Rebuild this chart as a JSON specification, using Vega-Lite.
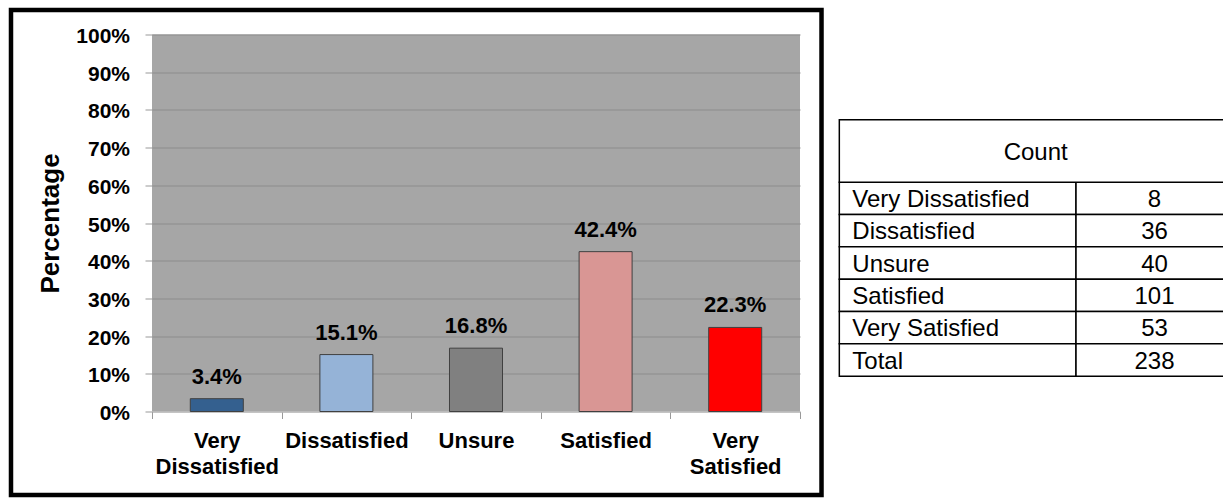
{
  "$schema": "https://vega.github.io/schema/vega-lite/v6.json",
  "autosize": {"type": "pad"},
  "padding": {"left": 8, "top": 7.5, "right": 0, "bottom": 1.5},
  "background": "white",
  "bounds": "flush",
  "spacing": 37,
  "config": {"font": "Liberation Sans", "view": {"stroke": null}},
  "datasets": {
    "chart": [
      {"label": "Very Dissatisfied", "pct": 0.034},
      {"label": "Dissatisfied", "pct": 0.151},
      {"label": "Unsure", "pct": 0.168},
      {"label": "Satisfied", "pct": 0.424},
      {"label": "Very Satisfied", "pct": 0.223}
    ],
    "table": [
      {"label": "Very Dissatisfied", "count": 8},
      {"label": "Dissatisfied", "count": 36},
      {"label": "Unsure", "count": 40},
      {"label": "Satisfied", "count": 101},
      {"label": "Very Satisfied", "count": 53},
      {"label": "Total", "count": 238}
    ]
  },
  "hconcat": [
    {
      "width": 648,
      "height": 377,
      "view": {"fill": "#a6a6a6", "stroke": null},
      "resolve": {"scale": {"x": "independent", "y": "independent"}},
      "layer": [
        {
          "data": {"name": "chart"},
          "encoding": {
            "x": {
              "field": "label", "type": "nominal", "sort": null,
              "scale": {"domain": ["Very Dissatisfied", "Dissatisfied", "Unsure", "Satisfied", "Very Satisfied"], "paddingInner": 0, "paddingOuter": 0},
              "axis": {
                "title": null, "labelExpr": "split(datum.label, ' ')", "labelAngle": 0,
                "labelFontSize": 22, "labelFontWeight": "bold", "labelColor": "black",
                "labelLineHeight": 26, "labelPadding": 12, "tickBand": "extent",
                "tickSize": 7, "tickColor": "#999999", "domainColor": "#c4c4c4", "grid": false
              }
            },
            "y": {
              "field": "pct", "type": "quantitative",
              "scale": {"domain": [0, 1], "nice": false},
              "axis": {
                "title": "Percentage", "titleFontSize": 26, "titleFontWeight": "bold", "titleColor": "black", "titlePadding": 12,
                "values": [0, 0.1, 0.2, 0.3, 0.4, 0.5, 0.6, 0.7, 0.8, 0.9, 1], "format": ".0%",
                "labelFontSize": 21, "labelFontWeight": "bold", "labelColor": "black", "labelPadding": 15.5, "labelOffset": 2,
                "tickSize": 7, "tickColor": "#999999", "domain": false,
                "grid": true, "gridColor": "#8c8c8c", "gridWidth": 1.2
              }
            }
          },
          "layer": [
            {
              "mark": {"type": "bar", "width": {"band": 0.409}, "stroke": "#404040", "strokeWidth": 1},
              "encoding": {
                "color": {
                  "field": "label", "type": "nominal",
                  "scale": {"domain": ["Very Dissatisfied", "Dissatisfied", "Unsure", "Satisfied", "Very Satisfied"], "range": ["#34608f", "#95b3d7", "#808080", "#d99694", "#ff0000"]},
                  "legend": null
                }
              }
            },
            {
              "mark": {"type": "text", "baseline": "alphabetic", "dy": -15, "fontSize": 22, "fontWeight": "bold", "color": "black"},
              "encoding": {"text": {"field": "pct", "type": "quantitative", "format": ".1%"}}
            }
          ]
        },
        {
          "data": {"values": [{}]},
          "mark": {"type": "rect", "filled": false, "stroke": "black", "strokeWidth": 4.5},
          "encoding": {
            "x": {"datum": -0.2176, "type": "quantitative", "scale": {"domain": [0, 1], "nice": false, "zero": false}, "axis": null},
            "x2": {"datum": 1.0332},
            "y": {"datum": 1.065, "type": "quantitative", "scale": {"domain": [0, 1], "nice": false, "zero": false}, "axis": null},
            "y2": {"datum": -0.2215}
          }
        }
      ]
    },
    {
      "width": 387,
      "height": 377,
      "view": {"stroke": null},
      "resolve": {"scale": {"y": "independent"}},
      "layer": [
        {
          "data": {"name": "table"},
          "encoding": {
            "y": {
              "field": "label", "type": "nominal",
              "scale": {"domain": ["Very Dissatisfied", "Dissatisfied", "Unsure", "Satisfied", "Very Satisfied", "Total"], "paddingInner": 0, "paddingOuter": 0, "range": [147.7, 341.7]},
              "axis": null
            }
          },
          "layer": [
            {
              "mark": {"type": "rect", "fill": "white", "stroke": "black", "strokeWidth": 1.5, "clip": true},
              "encoding": {
                "x": {"datum": 0.006, "type": "quantitative", "scale": {"domain": [0, 1], "nice": false, "zero": false}, "axis": null},
                "x2": {"datum": 0.6176}
              }
            },
            {
              "mark": {"type": "rect", "fill": "white", "stroke": "black", "strokeWidth": 1.5, "clip": true},
              "encoding": {
                "x": {"datum": 0.6176, "type": "quantitative", "axis": null},
                "x2": {"datum": 1.05}
              }
            },
            {
              "mark": {"type": "text", "align": "left", "baseline": "middle", "dx": 13, "dy": 1.5, "fontSize": 24, "color": "black"},
              "encoding": {
                "x": {"datum": 0.006, "type": "quantitative", "axis": null},
                "text": {"field": "label", "type": "nominal"}
              }
            },
            {
              "mark": {"type": "text", "align": "center", "baseline": "middle", "dy": 1.5, "fontSize": 24, "color": "black"},
              "encoding": {
                "x": {"datum": 0.8204, "type": "quantitative", "axis": null},
                "text": {"field": "count", "type": "quantitative"}
              }
            }
          ]
        },
        {
          "data": {"values": [{"h": "Count"}]},
          "layer": [
            {
              "mark": {"type": "rect", "fill": "white", "stroke": "black", "strokeWidth": 1.5, "clip": true},
              "encoding": {
                "x": {"datum": 0.006, "type": "quantitative", "axis": null},
                "x2": {"datum": 1.05},
                "y": {"datum": -1.93, "type": "quantitative", "scale": {"domain": [-4.568, 7.092], "reverse": true, "nice": false, "zero": false}, "axis": null},
                "y2": {"datum": 0}
              }
            },
            {
              "mark": {"type": "text", "align": "center", "baseline": "middle", "dy": 2.5, "fontSize": 24, "color": "black"},
              "encoding": {
                "x": {"datum": 0.5134, "type": "quantitative", "axis": null},
                "y": {"datum": -0.965, "type": "quantitative", "scale": {"domain": [-4.568, 7.092], "reverse": true, "nice": false, "zero": false}, "axis": null},
                "text": {"field": "h", "type": "nominal"}
              }
            }
          ]
        }
      ]
    }
  ]
}
